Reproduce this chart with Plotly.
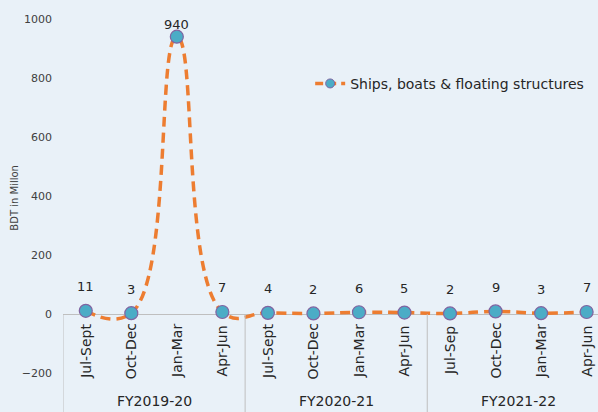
import plotly.graph_objects as go

# Quarterly values, BDT in million
quarters = ["Jul-Sept", "Oct-Dec", "Jan-Mar", "Apr-Jun",
            "Jul-Sept", "Oct-Dec", "Jan-Mar", "Apr-Jun",
            "Jul-Sep", "Oct-Dec", "Jan-Mar", "Apr-Jun"]
fiscal_years = ["FY2019-20", "FY2020-21", "FY2021-22"]
values = [11, 3, 940, 7, 4, 2, 6, 5, 2, 9, 3, 7]
series_name = "Ships, boats & floating structures"

FONT = "DejaVu Sans"
TXT = "#262626"
GRID = "#BFBFBF"
BG = "#E9F1F8"
LINE = "#ED7D31"
MFILL = "#4BACC6"
MEDGE = "#8064A2"

x = list(range(len(values)))

fig = go.Figure()
fig.add_trace(go.Scatter(
    x=x, y=values, name=series_name, showlegend=False,
    mode="lines+markers",
    line=dict(color=LINE, width=3.5, dash="10px,6px", shape="spline", smoothing=1.3),
    marker=dict(size=13, color=MFILL, line=dict(color=MEDGE, width=1.2)),
    cliponaxis=False,
))
# legend entry with a smaller marker
fig.add_trace(go.Scatter(
    x=[None], y=[None], name=series_name, mode="lines+markers",
    line=dict(color=LINE, width=3.5, dash="8px,5px"),
    marker=dict(size=9, color=MFILL, line=dict(color=MEDGE, width=1)),
))

annotations = []
# value labels above each point
for xi, v in zip(x, values):
    annotations.append(dict(
        x=xi, y=v, xref="x", yref="y", text=str(v), showarrow=False,
        yshift=12 if v > 900 else 24, font=dict(family=FONT, size=13, color=TXT),
    ))
# quarter labels, rotated, just below the zero line
for xi, q in zip(x, quarters):
    annotations.append(dict(
        x=xi, y=0, xref="x", yref="y", text=q, showarrow=False, textangle=-90,
        yshift=-37, font=dict(family=FONT, size=14, color=TXT),
    ))
# fiscal year group labels
for gi, fy in enumerate(fiscal_years):
    annotations.append(dict(
        x=gi * 4 + 1.5, y=0, xref="x", yref="y", text=fy, showarrow=False,
        yshift=-87, font=dict(family=FONT, size=14, color=TXT),
    ))
# y-axis title
annotations.append(dict(
    x=-0.09, y=0.545, xref="paper", yref="paper", xanchor="center", yanchor="middle",
    text="BDT in Millon", showarrow=False,
    textangle=-90, font=dict(family=FONT, size=10, color="#404040"),
))

shapes = []
# group dividers below the zero line
for b in [-0.5, 3.5, 7.5]:
    shapes.append(dict(type="line", xref="x", yref="y", x0=b, x1=b, y0=0, y1=-400,
                       line=dict(color=GRID, width=1)))

fig.update_layout(
    width=598, height=412,
    margin=dict(l=63, r=0, t=19, b=0),
    paper_bgcolor=BG, plot_bgcolor=BG,
    font=dict(family=FONT, color=TXT),
    showlegend=True,
    legend=dict(x=0.462, y=0.835, xanchor="left", yanchor="middle",
                bgcolor="rgba(0,0,0,0)", font=dict(family=FONT, size=14, color=TXT)),
    annotations=annotations,
    shapes=shapes,
    xaxis=dict(range=[-0.5, 11.25], showgrid=False, showticklabels=False,
               zeroline=False, showline=False, ticks=""),
    yaxis=dict(range=[-332, 1000], dtick=200, showgrid=False, zeroline=True,
               zerolinecolor=GRID, zerolinewidth=1, showline=False,
               tickfont=dict(family=FONT, size=11, color="#404040"),
               ticklabelstandoff=10),
)

fig.write_html("out.html")
